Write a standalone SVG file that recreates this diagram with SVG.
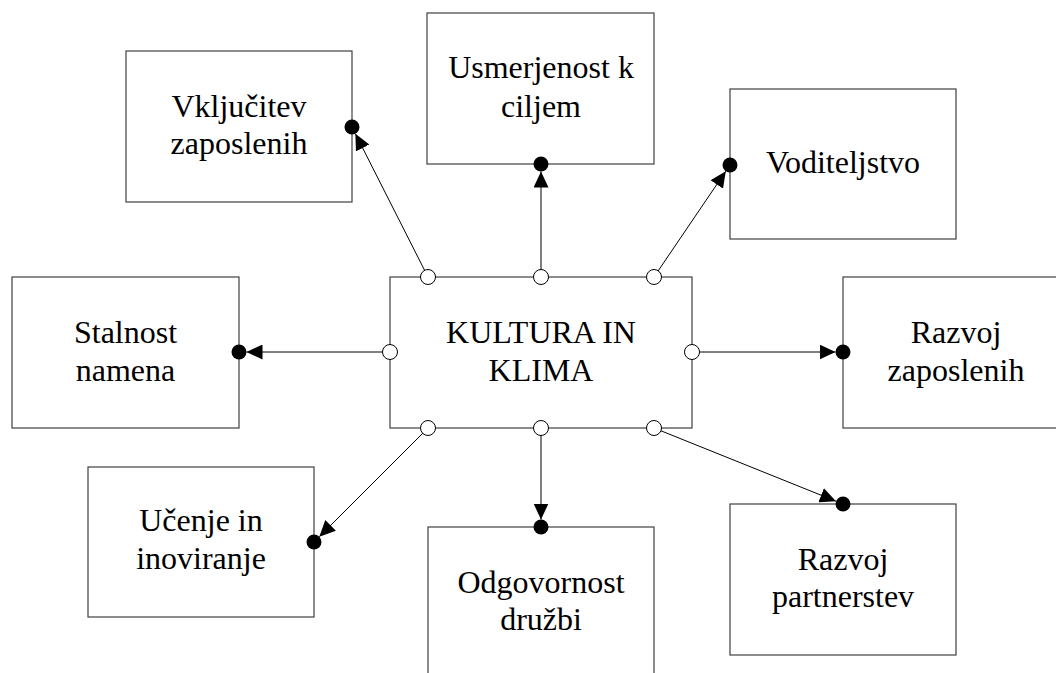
<svg xmlns="http://www.w3.org/2000/svg" width="1056" height="673" viewBox="0 0 1056 673">
  <style>
    .box { fill: #ffffff; stroke: #404040; stroke-width: 1.2; }
    .lbl { font-family: 'Liberation Serif', 'Times New Roman', serif; font-size: 32px; fill: #000000; text-anchor: middle; }
    .wire { stroke: #000000; stroke-width: 1; fill: none; marker-end: url(#arrow); }
    .port { fill: #ffffff; stroke: #000000; stroke-width: 1; }
    .dot { fill: #000000; }
  </style>
  <defs>
    <marker id="arrow" markerUnits="userSpaceOnUse" markerWidth="16" markerHeight="15" refX="16" refY="7.5" orient="auto">
      <path d="M0,0 L16,7.5 L0,15 z" fill="#000000"/>
    </marker>
  </defs>
  <rect width="1056" height="673" fill="#ffffff"/>

  <!-- central node -->
  <g id="kultura">
    <rect class="box" x="390" y="277" width="302" height="151"/>
    <text class="lbl" x="541" y="343">KULTURA IN</text>
    <text class="lbl" x="541" y="381">KLIMA</text>
  </g>

  <!-- surrounding nodes -->
  <g id="vkljucitev">
    <rect class="box" x="126" y="51" width="226" height="151"/>
    <text class="lbl" x="239" y="117">Vključitev</text>
    <text class="lbl" x="239" y="154">zaposlenih</text>
  </g>
  <g id="usmerjenost">
    <rect class="box" x="427" y="13" width="227" height="151"/>
    <text class="lbl" x="541" y="78">Usmerjenost k</text>
    <text class="lbl" x="541" y="117">ciljem</text>
  </g>
  <g id="voditeljstvo">
    <rect class="box" x="730" y="89" width="226" height="150"/>
    <text class="lbl" x="843" y="173">Voditeljstvo</text>
  </g>
  <g id="stalnost">
    <rect class="box" x="12" y="277" width="227" height="151"/>
    <text class="lbl" x="125.5" y="343">Stalnost</text>
    <text class="lbl" x="125.5" y="381">namena</text>
  </g>
  <g id="razvoj-zaposlenih">
    <rect class="box" x="843" y="277" width="227" height="151"/>
    <text class="lbl" x="956" y="343">Razvoj</text>
    <text class="lbl" x="956" y="381">zaposlenih</text>
  </g>
  <g id="ucenje">
    <rect class="box" x="88" y="467" width="226" height="150"/>
    <text class="lbl" x="201" y="531">Učenje in</text>
    <text class="lbl" x="201" y="569">inoviranje</text>
  </g>
  <g id="odgovornost">
    <rect class="box" x="428" y="527" width="226" height="151"/>
    <text class="lbl" x="541" y="593">Odgovornost</text>
    <text class="lbl" x="541" y="630">družbi</text>
  </g>
  <g id="razvoj-partnerstev">
    <rect class="box" x="730" y="504" width="226" height="151"/>
    <text class="lbl" x="843" y="570">Razvoj</text>
    <text class="lbl" x="843" y="607">partnerstev</text>
  </g>

  <!-- connectors: open port on the centre box, arrow onto a filled dot -->
  <g id="connectors">
    <line class="wire" x1="428" y1="277" x2="355.4" y2="133.7"/>
    <line class="wire" x1="541" y1="277" x2="541" y2="171.5"/>
    <line class="wire" x1="654" y1="277" x2="725.8" y2="171.2"/>
    <line class="wire" x1="390" y1="352" x2="246.5" y2="352"/>
    <line class="wire" x1="692" y1="352" x2="835.5" y2="352"/>
    <line class="wire" x1="428" y1="428" x2="319.3" y2="536.7"/>
    <line class="wire" x1="541" y1="428" x2="541" y2="519.5"/>
    <line class="wire" x1="654" y1="428" x2="836" y2="501.2"/>

    <circle class="port" cx="428" cy="277" r="7.5"/>
    <circle class="port" cx="541" cy="277" r="7.5"/>
    <circle class="port" cx="654" cy="277" r="7.5"/>
    <circle class="port" cx="390" cy="352" r="7.5"/>
    <circle class="port" cx="692" cy="352" r="7.5"/>
    <circle class="port" cx="428" cy="428" r="7.5"/>
    <circle class="port" cx="541" cy="428" r="7.5"/>
    <circle class="port" cx="654" cy="428" r="7.5"/>

    <circle class="dot" cx="352" cy="127" r="7.5"/>
    <circle class="dot" cx="541" cy="164" r="7.5"/>
    <circle class="dot" cx="730" cy="165" r="7.5"/>
    <circle class="dot" cx="239" cy="352" r="7.5"/>
    <circle class="dot" cx="843" cy="352" r="7.5"/>
    <circle class="dot" cx="314" cy="542" r="7.5"/>
    <circle class="dot" cx="541" cy="527" r="7.5"/>
    <circle class="dot" cx="843" cy="504" r="7.5"/>
  </g>
</svg>
